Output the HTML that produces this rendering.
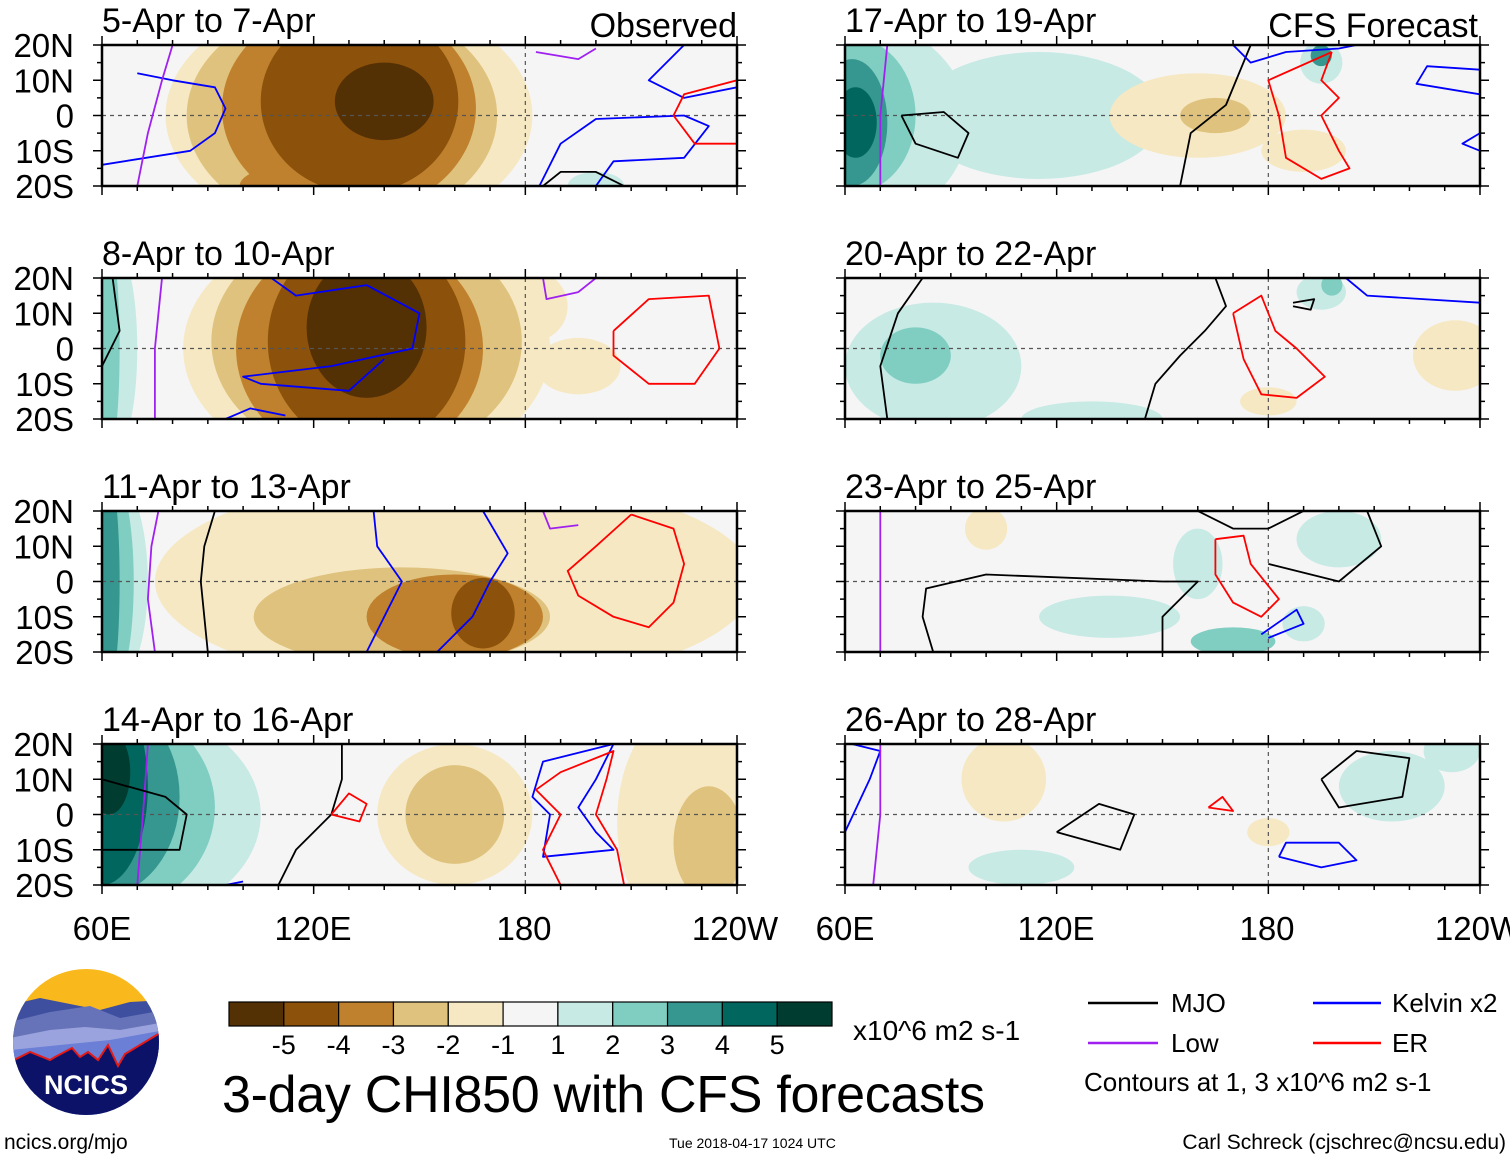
<!DOCTYPE html>
<html><head><meta charset="utf-8">
<style>
html,body{margin:0;padding:0;background:#fff;}
svg{display:block;font-family:"Liberation Sans",sans-serif;}
</style></head>
<body>
<svg id="chart" width="1510" height="1158" viewBox="0 0 1510 1158">
<defs></defs>
<g id="panels"></g>

<g font-size="33" fill="#000">
<text x="102" y="940" text-anchor="middle">60E</text>
<text x="313" y="940" text-anchor="middle">120E</text>
<text x="524" y="940" text-anchor="middle">180</text>
<text x="735" y="940" text-anchor="middle">120W</text>
<text x="845" y="940" text-anchor="middle">60E</text>
<text x="1056" y="940" text-anchor="middle">120E</text>
<text x="1267" y="940" text-anchor="middle">180</text>
<text x="1478" y="940" text-anchor="middle">120W</text>
</g>

<text x="737" y="37" font-size="34" text-anchor="end">Observed</text>
<text x="1478" y="37" font-size="34" text-anchor="end">CFS Forecast</text>

<g id="colorbar"></g>
<text x="853" y="1040" font-size="28">x10^6 m2 s-1</text>
<text x="222" y="1112" font-size="52" textLength="763">3-day CHI850 with CFS forecasts</text>

<g font-size="26">
<line x1="1088" y1="1003" x2="1158" y2="1003" stroke="#000" stroke-width="2.5"/>
<text x="1171" y="1012">MJO</text>
<line x1="1088" y1="1043" x2="1158" y2="1043" stroke="#a020f0" stroke-width="2.5"/>
<text x="1171" y="1052">Low</text>
<line x1="1313" y1="1003" x2="1381" y2="1003" stroke="#0000ff" stroke-width="2.5"/>
<text x="1392" y="1012">Kelvin x2</text>
<line x1="1313" y1="1043" x2="1381" y2="1043" stroke="#ff0000" stroke-width="2.5"/>
<text x="1392" y="1052">ER</text>
<text x="1084" y="1091">Contours at 1, 3 x10^6 m2 s-1</text>
</g>

<text x="4" y="1149" font-size="21">ncics.org/mjo</text>
<text x="669" y="1148" font-size="14">Tue 2018-04-17 1024 UTC</text>
<text x="1506" y="1149" font-size="21" text-anchor="end">Carl Schreck (cjschrec@ncsu.edu)</text>

<g>
<clipPath id="logoclip"><circle cx="86" cy="1042" r="73"/></clipPath>
<g clip-path="url(#logoclip)">
<rect x="10" y="965" width="155" height="160" fill="#f9b81b"/>
<path d="M10 1005 L40 998 L70 1004 L100 1010 L130 1002 L165 1000 L165 1125 L10 1125Z" fill="#3f4fa0"/>
<path d="M10 1022 L50 1012 L90 1006 L120 1018 L165 1010 L165 1125 L10 1125Z" fill="#6673b8"/>
<path d="M10 1038 L50 1030 L85 1027 L120 1030 L165 1022 L165 1125 L10 1125Z" fill="#9aa3dd"/>
<path d="M10 1050 L60 1045 L110 1040 L165 1030 L165 1125 L10 1125Z" fill="#6b7fd6"/>
<path d="M10 1062 L30 1052 L50 1060 L55 1057 L72 1048 L80 1057 L88 1052 L98 1060 L108 1045 L118 1066 L125 1054 L165 1030 L165 1125 L10 1125Z" fill="#0b1268" stroke="#e21a1a" stroke-width="2"/>
</g>
<text x="86" y="1094" font-size="27" font-weight="bold" fill="#fff" text-anchor="middle">NCICS</text>
</g>
</svg>

<script>
// ---------- DATA ----------
const panelTitles = ["5-Apr to 7-Apr","8-Apr to 10-Apr","11-Apr to 13-Apr","14-Apr to 16-Apr",
                     "17-Apr to 19-Apr","20-Apr to 22-Apr","23-Apr to 25-Apr","26-Apr to 28-Apr"];
const latTicks = ["20N","10N","0","10S","20S"];
const latTickValues = [20,10,0,-10,-20];
const levelColors = ["#543005","#8c510a","#bf812d","#dfc27d","#f6e8c3","#f5f5f5","#c7eae5","#80cdc1","#35978f","#01665e","#003c30"];
const colorbarLabels = ["-5","-4","-3","-2","-1","1","2","3","4","5"];
// fill blobs per panel: [lon, lat, rxDeg, ryDeg, level]
const fillBlobs = [
 [[130,0,52,34,-1],[128,0,44,32,-2],[130,2,36,30,-3],[133,4,28,26,-4],[140,4,14,11,-5],[115,-20,16,6,-3],[200,-20,8,4,1]],
 [[135,0,52,36,-1],[63,0,7,30,1],[62,0,3,30,2],[135,2,44,34,-2],[133,0,35,32,-3],[135,2,28,30,-4],[135,6,17,20,-5],[195,-5,12,8,-1],[182,12,10,10,-1]],
 [[160,0,85,30,-1],[63,0,10,30,1],[63,0,6,30,2],[62,0,3,30,3],[85,0,3,30,0],[145,-10,42,14,-2],[160,-10,25,12,-3],[168,-9,9,10,-4]],
 [[60,0,45,32,1],[60,2,32,30,2],[60,5,22,28,3],[60,8,13,28,4],[62,12,6,12,5],[160,0,22,20,-1],[160,0,14,14,-2],[228,-2,22,34,-1],[232,-8,10,16,-2],[120,10,8,6,0]],
 [[60,-2,35,30,1],[62,0,18,22,2],[62,-2,10,18,3],[63,-2,6,10,4],[115,0,35,18,1],[160,0,25,12,-1],[165,0,10,5,-2],[190,-10,12,6,-1],[195,15,6,6,1],[195,17,3,3,3]],
 [[85,-5,25,18,1],[80,-2,10,8,2],[130,-20,20,5,1],[233,-2,12,10,-1],[195,16,7,5,1],[198,18,3,3,2],[180,-15,8,4,-1]],
 [[200,12,12,8,1],[160,5,7,10,1],[135,-10,20,6,1],[170,-17,12,4,2],[100,15,6,6,-1],[190,-12,6,5,1]],
 [[105,10,12,12,-1],[110,-15,15,5,1],[215,8,15,10,1],[232,18,8,6,1],[180,-5,6,4,-1]]
];
// contours per panel: {type, pts:[[lon,lat],...]}
const contours = [
 [{t:"kelvin",pts:[[60,-14],[85,-10],[92,-5],[95,2],[92,8],[80,10],[70,12]]},
  {t:"low",pts:[[70,-20],[73,-5],[77,10],[80,20]]},
  {t:"low",pts:[[183,18],[195,16],[200,19]]},
  {t:"kelvin",pts:[[200,-20],[205,-13],[225,-12],[232,-3],[225,0],[200,-1],[190,-8],[184,-20]]},
  {t:"kelvin",pts:[[225,20],[215,10],[225,5],[240,8]]},
  {t:"er",pts:[[240,10],[225,6],[222,0],[228,-8],[240,-8]]},
  {t:"mjo",pts:[[185,-20],[190,-16],[200,-16],[208,-20]]}],
 [{t:"mjo",pts:[[63,20],[65,5],[60,-5]]},
  {t:"low",pts:[[77,20],[75,0],[75,-20]]},
  {t:"kelvin",pts:[[108,20],[115,15],[135,18],[150,10],[148,0],[125,-5],[100,-8],[105,-10],[130,-12],[140,-3]]},
  {t:"kelvin",pts:[[95,-20],[102,-17],[112,-19]]},
  {t:"low",pts:[[185,20],[186,14],[195,16],[200,20]]},
  {t:"er",pts:[[205,5],[215,14],[232,15],[235,0],[228,-10],[215,-10],[205,-2],[205,5]]}],
 [{t:"low",pts:[[75,-20],[73,-5],[74,10],[76,20]]},
  {t:"mjo",pts:[[90,-20],[88,0],[89,10],[92,20]]},
  {t:"kelvin",pts:[[135,-20],[140,-10],[145,0],[138,10],[137,20]]},
  {t:"kelvin",pts:[[155,-20],[165,-10],[170,0],[175,8],[168,20]]},
  {t:"low",pts:[[185,20],[187,15],[195,16]]},
  {t:"er",pts:[[210,19],[222,15],[225,5],[222,-6],[215,-13],[205,-10],[195,-4],[192,3],[200,10],[210,19]]}],
 [{t:"low",pts:[[73,20],[72,5],[70,-20]]},
  {t:"mjo",pts:[[60,10],[78,5],[84,0],[82,-10],[60,-10]]},
  {t:"mjo",pts:[[110,-20],[115,-10],[125,0],[128,10],[128,20]]},
  {t:"er",pts:[[125,0],[130,6],[135,3],[133,-2],[125,0]]},
  {t:"kelvin",pts:[[205,20],[200,10],[195,2],[200,-5],[205,-10],[185,-12],[187,0],[182,5],[185,15],[205,20]]},
  {t:"er",pts:[[190,-20],[185,-10],[190,0],[183,7],[190,12],[205,18],[203,10],[200,0],[206,-10],[208,-20]]},
  {t:"kelvin",pts:[[95,-20],[100,-19]]}],
 [{t:"low",pts:[[72,20],[70,0],[70,-20]]},
  {t:"mjo",pts:[[76,0],[88,1],[95,-5],[92,-12],[80,-8],[76,0]]},
  {t:"mjo",pts:[[155,-20],[158,-5],[168,3],[175,20]]},
  {t:"er",pts:[[198,18],[195,10],[200,5],[195,0],[200,-10],[203,-15],[195,-18],[185,-12],[183,0],[180,10],[198,18]]},
  {t:"kelvin",pts:[[170,20],[175,15],[185,18],[200,19],[205,20]]},
  {t:"kelvin",pts:[[240,13],[225,14],[222,9],[240,6]]},
  {t:"kelvin",pts:[[240,-10],[235,-8],[240,-5]]}],
 [{t:"mjo",pts:[[72,-20],[70,-5],[75,10],[82,20]]},
  {t:"mjo",pts:[[145,-20],[148,-10],[155,-2],[162,5],[168,12],[165,20]]},
  {t:"er",pts:[[170,10],[178,15],[182,5],[188,0],[196,-8],[188,-14],[178,-13],[173,-3],[170,10]]},
  {t:"kelvin",pts:[[202,20],[208,15],[240,13]]},
  {t:"mjo",pts:[[187,13],[193,14],[192,11],[187,12]]}],
 [{t:"low",pts:[[70,20],[70,0],[70,-20]]},
  {t:"mjo",pts:[[85,-20],[82,-10],[83,-2],[100,2],[150,0],[160,0],[150,-10],[150,-20]]},
  {t:"mjo",pts:[[160,20],[170,15],[180,15],[190,20]]},
  {t:"mjo",pts:[[180,5],[200,0],[212,10],[208,20]]},
  {t:"er",pts:[[165,12],[173,13],[175,5],[183,-5],[178,-10],[170,-6],[165,2],[165,12]]},
  {t:"kelvin",pts:[[178,-15],[188,-8],[190,-12],[180,-16]]}],
 [{t:"kelvin",pts:[[62,20],[70,18],[67,10],[60,-5]]},
  {t:"low",pts:[[70,20],[70,0],[68,-20]]},
  {t:"mjo",pts:[[120,-5],[132,3],[142,0],[138,-10],[120,-5]]},
  {t:"er",pts:[[163,2],[167,5],[170,1],[163,2]]},
  {t:"mjo",pts:[[195,10],[205,18],[220,16],[218,5],[200,2],[195,10]]},
  {t:"kelvin",pts:[[183,-12],[195,-15],[205,-13],[200,-8],[185,-8],[183,-12]]}]
];

// ---------- RENDER ----------
const NS = "http://www.w3.org/2000/svg";
const PW = 635, PH = 141;
const panelX = [102,102,102,102,845,845,845,845];
const panelY = [45,278,511,744,45,278,511,744];
const contourColors = {mjo:"#000000",low:"#a020f0",kelvin:"#0000ff",er:"#ff0000"};
function mk(tag, attrs, parent){ const e=document.createElementNS(NS,tag); for(const k in attrs) e.setAttribute(k,attrs[k]); parent.appendChild(e); return e; }
function levelColor(l){ return levelColors[l+5]; }

const root = document.getElementById("panels");
const defs = document.querySelector("defs");
panelTitles.forEach((title,i)=>{
  const x0=panelX[i], y0=panelY[i];
  const xs = lon => x0 + (lon-60)*PW/180;
  const ys = lat => y0 + (20-lat)*PH/40;
  const g = mk("g",{},root);
  
  
  const cp = mk("clipPath",{id:"clip"+i},defs);
  mk("rect",{x:x0,y:y0,width:PW,height:PH},cp);
  const bg = mk("rect",{x:x0,y:y0,width:PW,height:PH,fill:"#f5f5f5"},g);
  
  
  const fg = mk("g",{"clip-path":"url(#clip"+i+")"},g);
  const blobs = fillBlobs[i].slice().sort((a,b)=>Math.abs(a[4])-Math.abs(b[4]));
  blobs.forEach(b=>{
    const e = mk("ellipse",{cx:xs(b[0]),cy:ys(b[1]),rx:b[2]*PW/180,ry:b[3]*PH/40,fill:levelColor(b[4])},fg);
    
    
  });
  mk("line",{x1:x0,y1:ys(0),x2:x0+PW,y2:ys(0),stroke:"#555","stroke-width":1.2,"stroke-dasharray":"4,4"},fg);
  mk("line",{x1:xs(180),y1:y0,x2:xs(180),y2:y0+PH,stroke:"#555","stroke-width":1.2,"stroke-dasharray":"4,4"},fg);
  contours[i].forEach(c=>{
    const d = c.pts.map((p,k)=>(k?"L":"M")+xs(p[0]).toFixed(1)+" "+ys(p[1]).toFixed(1)).join(" ");
    const p = mk("path",{d:d,fill:"none",stroke:contourColors[c.t],"stroke-width":1.8,"stroke-linejoin":"round"},fg);
    
    
  });
  mk("rect",{x:x0,y:y0,width:PW,height:PH,fill:"none",stroke:"#000","stroke-width":2.5},g);
  for(let lon=60;lon<=240;lon+=10){
    const L = (lon%60===0)?9:5;
    mk("line",{x1:xs(lon),y1:y0,x2:xs(lon),y2:y0-L,stroke:"#000","stroke-width":1.5},g);
    mk("line",{x1:xs(lon),y1:y0+PH,x2:xs(lon),y2:y0+PH+L,stroke:"#000","stroke-width":1.5},g);
  }
  for(let lat=-20;lat<=20;lat+=5){
    const L = (lat%10===0)?9:5;
    mk("line",{x1:x0,y1:ys(lat),x2:x0-L,y2:ys(lat),stroke:"#000","stroke-width":1.5},g);
    mk("line",{x1:x0+PW,y1:ys(lat),x2:x0+PW+L,y2:ys(lat),stroke:"#000","stroke-width":1.5},g);
  }
  const t = mk("text",{x:x0,y:y0-13,"font-size":34},g);
  t.textContent = title;
  
  
  if(i<4){
    latTicks.forEach((lab,k)=>{
      const tl = mk("text",{x:74,y:ys(latTickValues[k])+12,"font-size":33,"text-anchor":"end"},g);
      tl.textContent = lab;
      
      
    });
  }
});

const cb = document.getElementById("colorbar");
const cbX=229, cbY=1002, cbW=603, cbH=24, bw=cbW/levelColors.length;
levelColors.forEach((c,k)=>{
  const r = mk("rect",{x:cbX+k*bw,y:cbY,width:bw,height:cbH,fill:c,stroke:"#000","stroke-width":1.2},cb);
  
  
});
colorbarLabels.forEach((lab,k)=>{
  const tx = mk("text",{x:cbX+(k+1)*bw,y:1054,"font-size":27,"text-anchor":"middle"},cb);
  tx.textContent = lab;
  
  
});
</script>
</body></html>
